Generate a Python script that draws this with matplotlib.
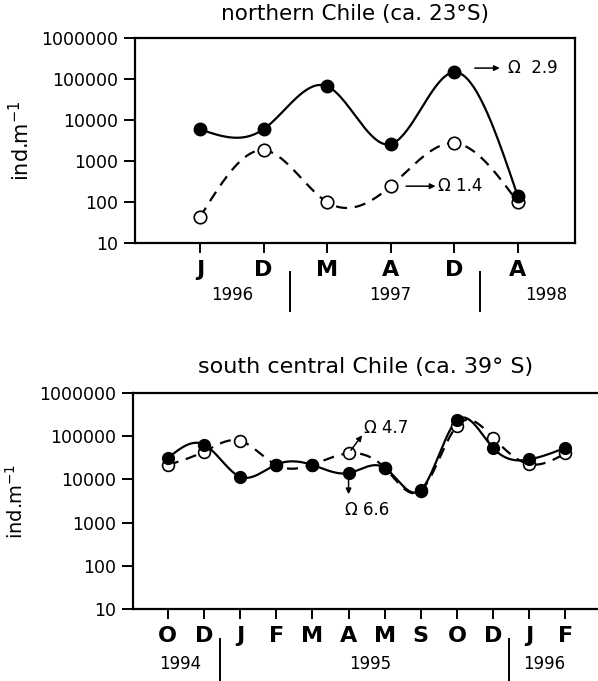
import numpy as np
from matplotlib import pyplot as plt
from matplotlib import transforms

# northern Chile (ca. 23°S)
north_months = ['J', 'D', 'M', 'A', 'D', 'A']
north_filled = [6000, 6000, 67000, 2600, 148000, 140]
north_open = [43, 1850, 100, 245, 2750, 100]

# south central Chile (ca. 39°S)
south_months = ['O', 'D', 'J', 'F', 'M', 'A', 'M', 'S', 'O', 'D', 'J', 'F']
south_filled = [31000, 64000, 11500, 22000, 21500, 14000, 18500, 5700, 235000, 53000, 29000, 54000]
south_open = [21500, 44000, 78000, 21500, 22000, 40000, 18500, 5500, 175000, 92000, 22500, 40000]

ytick_vals = [10, 100, 1000, 10000, 100000, 1000000]


def spline(y, n=40):
    # natural cubic spline in log space, x = 0..len-1
    y = np.log10(np.asarray(y, float))
    m = len(y)
    A = np.zeros((m, m))
    b = np.zeros(m)
    A[0, 0] = A[-1, -1] = 1
    for i in range(1, m - 1):
        A[i, i - 1], A[i, i], A[i, i + 1] = 1, 4, 1
        b[i] = 6 * (y[i + 1] - 2 * y[i] + y[i - 1])
    M = np.linalg.solve(A, b)
    xs, ys = [], []
    for i in range(m - 1):
        t = np.linspace(0, 1, n)
        seg = ((1 - t) * y[i] + t * y[i + 1]
               + ((1 - t) ** 3 - (1 - t)) * M[i] / 6
               + (t ** 3 - t) * M[i + 1] / 6)
        xs.append(i + t)
        ys.append(seg)
    return np.concatenate(xs), 10 ** np.concatenate(ys)


def draw(ax, filled, opn, msize):
    x = np.arange(len(filled))
    sx, sy = spline(opn)
    ax.plot(sx, sy, color='black', lw=1.6, ls=(0, (5, 3.5)))
    sx, sy = spline(filled)
    ax.plot(sx, sy, color='black', lw=1.6)
    ax.plot(x, opn, 'o', ms=msize, mfc='white', mec='black', mew=1.2, zorder=3)
    ax.plot(x, filled, 'o', ms=msize, mfc='black', mec='black', zorder=4)


def style(ax, months, fs, lab_fs):
    ax.set_yscale('log')
    ax.set_ylim(10, 1000000)
    ax.set_yticks(ytick_vals)
    ax.set_yticklabels([str(v) for v in ytick_vals], fontsize=12.5)
    ax.minorticks_off()
    ax.set_xticks(range(len(months)))
    ax.set_xticklabels(months, fontsize=fs, fontweight='bold')
    ax.tick_params(axis='y', length=8, width=1.4, direction='out', pad=4)
    ax.tick_params(axis='x', length=7, width=1.4, direction='out', pad=5)
    for s in ax.spines.values():
        s.set_linewidth(1.6)
    ax.set_ylabel('ind.m$^{-1}$', fontsize=lab_fs)


def years(ax, labels, seps):
    tr = transforms.blended_transform_factory(ax.transData, ax.transAxes)
    for xp, txt in labels:
        ax.text(xp, -0.255, txt, transform=tr, ha='center', va='center', fontsize=12)
    for xp in seps:
        ax.plot([xp, xp], [-0.14, -0.33], transform=tr, color='black', lw=1.4, clip_on=False)


def arrow(ax, start, end):
    ax.annotate('', xy=end, xytext=start,
                arrowprops=dict(arrowstyle='-|>', color='black', lw=1.1, mutation_scale=8))


fig = plt.figure(figsize=(5.98, 6.81), dpi=100)

ax1 = fig.add_axes([0.226, 0.643, 0.7355, 0.301])
draw(ax1, north_filled, north_open, 9)
ax1.set_xlim(-1.02, 5.9)
style(ax1, north_months, 16, 15)
ax1.yaxis.set_label_coords(-0.232, 0.5)
ax1.set_title('northern Chile (ca. 23°S)', fontsize=15.5, pad=13)
years(ax1, [(0.5, '1996'), (3.0, '1997'), (5.45, '1998')], [1.42, 4.4])
arrow(ax1, (4.28, 186000), (4.76, 186000))
ax1.text(4.84, 186000, 'Ω  2.9', fontsize=12, va='center')
arrow(ax1, (3.2, 245), (3.75, 245))
ax1.text(3.75, 245, 'Ω 1.4', fontsize=12, va='center')

ax2 = fig.add_axes([0.222, 0.1057, 0.778, 0.3173])
draw(ax2, south_filled, south_open, 8.5)
ax2.set_xlim(-0.97, 11.9)
style(ax2, south_months, 16, 14)
ax2.spines['right'].set_visible(False)
ax2.yaxis.set_label_coords(-0.228, 0.5)
ax2.set_title('south central Chile (ca. 39° S)', fontsize=16, pad=14)
years(ax2, [(0.33, '1994'), (5.6, '1995'), (10.4, '1996')], [1.44, 9.45])
arrow(ax2, (5.02, 42000), (5.42, 118000))
ax2.text(5.44, 155000, 'Ω 4.7', fontsize=12, va='center')
arrow(ax2, (5.0, 13000), (5.0, 3900))
ax2.text(4.89, 1950, 'Ω 6.6', fontsize=12, va='center', ha='left')

plt.savefig('out.png', dpi=100)
